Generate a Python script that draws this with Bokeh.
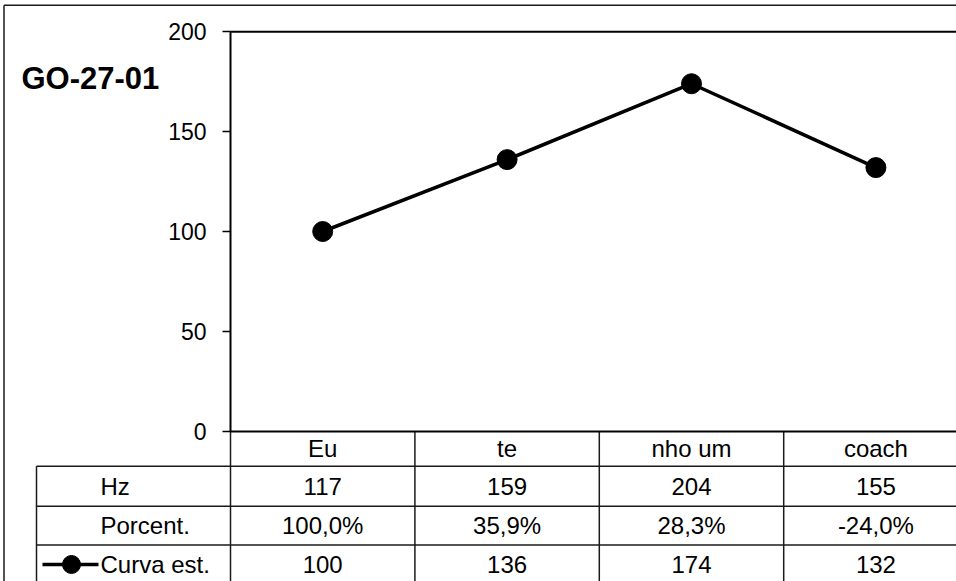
from bokeh.plotting import figure
from bokeh.models import Range1d, LinearAxis, FixedTicker
from bokeh.core.properties import value
from bokeh.embed import file_html
from bokeh.resources import INLINE

# ---------------- data ----------------
chart_title = "GO-27-01"
categories = ["Eu", "te", "nho um", "coach"]
hz = [117, 159, 204, 155]
porcent = [100.0, 35.9, 28.3, -24.0]
curva = [100, 136, 174, 132]
row_labels = ["Hz", "Porcent.", "Curva est."]
y_ticks = [0, 50, 100, 150, 200]

# ---------------- layout (page pixels) ----------------
FONT = "Liberation Sans"
OX, OY, W, H = 2, 3, 954, 578
PL, PT, PB, CW = 230.0, 31.3, 430.7, 184.4
VMAX = y_ticks[-1]
PY = (PB - PT) / VMAX
TABLE_FS = "24px"


def X(px):
    return (px - PL) / CW


def Y(py):
    return (PB - py) / PY


p = figure(width=W, height=H, output_backend="svg", toolbar_location=None,
           x_range=Range1d(X(OX), X(OX + W)), y_range=Range1d(Y(OY + H), Y(OY)),
           min_border=0, x_axis_type=None, y_axis_type=None)
p.outline_line_color = None
p.background_fill_color = "white"
p.border_fill_color = "white"
p.styles = {"position": "absolute", "left": f"{OX}px", "top": f"{OY}px"}

XEND = X(OX + W)
LINE_C = "#1a1a1a"

# outer chart border (left + top)
p.segment(x0=[X(3.5), X(3.5)], y0=[Y(4.8), Y(4.8)], x1=[X(3.5), XEND], y1=[Y(OY + H), Y(4.8)],
          line_color=LINE_C, line_width=1.5)

# plot area top border
p.segment(x0=[0], y0=[VMAX], x1=[XEND], y1=[VMAX], line_color="black", line_width=2)

# y axis
yax = LinearAxis(fixed_location=0, bounds=(0, VMAX), ticker=FixedTicker(ticks=y_ticks),
                 axis_line_width=2, axis_line_color="black",
                 major_tick_out=8, major_tick_in=0, major_tick_line_width=1.5,
                 major_tick_line_color="black", minor_tick_line_color=None,
                 major_label_text_font=FONT, major_label_text_font_size="23px",
                 major_label_text_color="black", major_label_standoff=16)
p.add_layout(yax, "left")

# x axis = category header row
cat_pos = [i + 0.5 for i in range(len(categories))]
xax = LinearAxis(fixed_location=0, bounds=(0, XEND), ticker=FixedTicker(ticks=cat_pos),
                 major_label_overrides={pos: c for pos, c in zip(cat_pos, categories)},
                 axis_line_width=2, axis_line_color="black",
                 major_tick_out=0, major_tick_in=0, major_tick_line_color=None,
                 minor_tick_line_color=None,
                 major_label_text_font=FONT, major_label_text_font_size=TABLE_FS,
                 major_label_text_color="black", major_label_standoff=4)
p.add_layout(xax, "below")

# line series
p.line(x=cat_pos, y=curva, line_color="black", line_width=3.5)
p.scatter(x=cat_pos, y=curva, size=20, fill_color="black", line_color="black")

# title
p.text(x=[X(21)], y=[Y(78)], text=[chart_title], text_font=value(FONT),
       text_font_size="31px", text_font_style="bold", text_color="black",
       text_align="left", text_baseline="middle")

# ---------------- data table ----------------
row_tops = [465.7, 505.7, 544.5]
row_bottom = OY + H + 4
n = len(categories)
# horizontal lines
p.segment(x0=[X(36)] * 3, y0=[Y(r) for r in row_tops], x1=[XEND] * 3, y1=[Y(r) for r in row_tops],
          line_color=LINE_C, line_width=1.5)
# vertical lines: column dividers and table left border
p.segment(x0=list(range(n)), y0=[0] * n, x1=list(range(n)), y1=[Y(row_bottom)] * n,
          line_color=LINE_C, line_width=1.5)
p.segment(x0=[X(36)], y0=[Y(465.7)], x1=[X(36)], y1=[Y(row_bottom)],
          line_color=LINE_C, line_width=1.5)

row_centers = [485.7, 525.0, 563.5]
fmt_pct = [f"{v:.1f}%".replace(".", ",") for v in porcent]
rows = [[str(v) for v in hz], fmt_pct, [str(v) for v in curva]]
xs, ys, ts = [], [], []
for rc, vals in zip(row_centers, rows):
    for pos, t in zip(cat_pos, vals):
        xs.append(pos)
        ys.append(Y(rc))
        ts.append(t)
p.text(x=xs, y=ys, text=ts, text_font=value(FONT), text_font_size=TABLE_FS,
       text_color="black", text_align="center", text_baseline="middle")

# row labels
p.text(x=[X(100)] * 3, y=[Y(rc) for rc in row_centers], text=row_labels,
       text_font=value(FONT), text_font_size=TABLE_FS, text_color="black",
       text_align="left", text_baseline="middle")

# legend key in table
p.line(x=[X(42), X(98)], y=[Y(564)] * 2, line_color="black", line_width=3.5)
p.scatter(x=[X(71)], y=[Y(564)], size=18, fill_color="black", line_color="black")

open("out.html", "w").write(file_html(p, INLINE))
